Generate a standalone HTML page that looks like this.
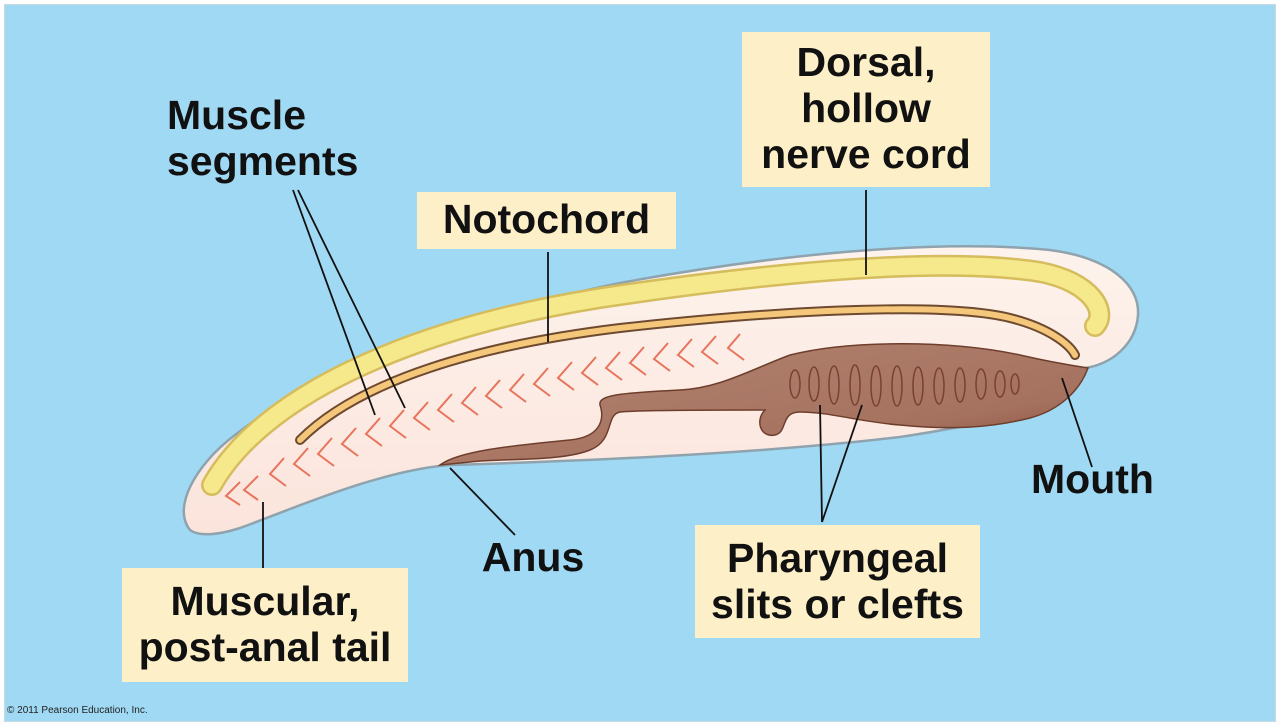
<!DOCTYPE html>
<html><head><style>
html,body{margin:0;padding:0;}
body{width:1280px;height:726px;background:#fff;position:relative;overflow:hidden;font-family:"Liberation Sans",Arial,sans-serif;}
.bg{position:absolute;left:4px;top:4px;width:1272px;height:718px;background:#a0d9f4;border:1px solid #c9d9e0;box-sizing:border-box;}
.t{position:absolute;font-weight:bold;font-size:41px;line-height:46px;color:#111;text-align:center;white-space:nowrap;}
.box{position:absolute;background:#fdf0c9;}
.copy{position:absolute;left:7px;top:705px;font-size:10px;color:#222;}
</style></head><body>
<div class="bg"></div>
<svg width="1280" height="726" style="position:absolute;left:0;top:0">
<defs>
<linearGradient id="bd" x1="0" y1="0" x2="0" y2="1">
<stop offset="0" stop-color="#fdf3ec"/><stop offset="1" stop-color="#fbe4dc"/></linearGradient>
<linearGradient id="gut" x1="0" y1="0" x2="1" y2="1">
<stop offset="0" stop-color="#b28470"/><stop offset="0.7" stop-color="#a67260"/><stop offset="1" stop-color="#7e4230"/></linearGradient>
</defs>
<path d="M190 530 C172 508 195 465 235 435 C325 365 450 318 620 283 C800 250 950 240 1050 250 C1110 258 1140 285 1138 315 C1136 345 1110 365 1085 368 L1065 395 C1040 410 980 425 900 437 C750 455 550 462 450 465 C380 470 290 510 240 528 C215 536 198 536 190 530 Z" fill="url(#bd)" stroke="#8fa3ae" stroke-width="2.5"/>
<path d="M212 485 C260 400 400 330 600 298 C800 268 950 258 1040 272 C1092 282 1108 312 1095 326" fill="none" stroke="#d5bc5c" stroke-width="22" stroke-linecap="round"/>
<path d="M212 485 C260 400 400 330 600 298 C800 268 950 258 1040 272 C1092 282 1108 312 1095 326" fill="none" stroke="#f6e98c" stroke-width="17" stroke-linecap="round"/>
<path d="M300 440 C360 380 480 345 620 328 C800 308 950 303 1010 318 C1050 328 1070 345 1075 355" fill="none" stroke="#6e4a30" stroke-width="10" stroke-linecap="round"/>
<path d="M300 440 C360 380 480 345 620 328 C800 308 950 303 1010 318 C1050 328 1070 345 1075 355" fill="none" stroke="#f5c77a" stroke-width="6" stroke-linecap="round"/>
<path d="M440 465 C460 450 520 445 570 440 C600 437 605 420 600 405 C598 395 620 393 680 390 C720 388 750 370 790 355 C850 340 950 340 1020 355 C1050 362 1075 366 1088 368 C1080 390 1060 410 1030 418 C990 428 950 430 900 425 C860 422 830 412 800 412 C780 412 788 432 775 435 C760 438 755 420 765 410 C740 410 640 410 620 412 C605 415 615 440 590 450 C560 462 500 458 470 462 Z" fill="url(#gut)" stroke="#6e3e2c" stroke-width="1.5"/>
<g fill="none" stroke="#7a4030" stroke-width="1.5">
<ellipse cx="795" cy="384" rx="5" ry="14"/><ellipse cx="814" cy="384" rx="5" ry="17"/><ellipse cx="834" cy="385" rx="5" ry="19"/><ellipse cx="855" cy="385" rx="5" ry="20"/><ellipse cx="876" cy="386" rx="5" ry="20"/><ellipse cx="897" cy="386" rx="5" ry="20"/><ellipse cx="918" cy="386" rx="5" ry="19"/><ellipse cx="939" cy="386" rx="5" ry="18"/><ellipse cx="960" cy="385" rx="5" ry="17"/><ellipse cx="981" cy="384" rx="5" ry="15"/><ellipse cx="1000" cy="384" rx="5" ry="13"/><ellipse cx="1015" cy="384" rx="4" ry="10"/>
</g>
<g fill="none" stroke="#e8745c" stroke-width="2">
<path d="M240 482 L226 496 L240 505"/><path d="M258 476 L244 490 L258 500"/>
<path d="M284 458 L270 474 L286 486"/><path d="M308 448 L294 464 L310 476"/><path d="M332 438 L318 454 L334 466"/><path d="M356 428 L342 444 L358 456"/><path d="M380 418 L366 434 L382 446"/><path d="M404 410 L390 426 L406 438"/><path d="M428 402 L414 418 L430 430"/><path d="M452 394 L438 410 L454 422"/><path d="M476 387 L462 403 L478 415"/><path d="M500 380 L486 396 L502 408"/><path d="M524 374 L510 390 L526 402"/><path d="M548 368 L534 384 L550 396"/><path d="M572 362 L558 378 L574 390"/><path d="M596 357 L582 373 L598 385"/><path d="M620 352 L606 368 L622 380"/><path d="M644 347 L630 363 L646 375"/><path d="M668 343 L654 359 L670 371"/><path d="M692 339 L678 355 L694 367"/><path d="M716 336 L702 352 L718 364"/><path d="M740 334 L728 348 L744 360"/>
</g>
<g stroke="#111" stroke-width="1.8">
<line x1="293" y1="190" x2="375" y2="415"/><line x1="298" y1="190" x2="405" y2="408"/>
<line x1="548" y1="252" x2="548" y2="342"/><line x1="866" y1="190" x2="866" y2="275"/>
<line x1="263" y1="502" x2="263" y2="568"/><line x1="450" y1="468" x2="515" y2="535"/>
<line x1="822" y1="522" x2="820" y2="405"/><line x1="822" y1="522" x2="862" y2="405"/>
<line x1="1062" y1="378" x2="1092" y2="467"/>
</g>
</svg>
<div class="box" style="left:417px;top:192px;width:259px;height:57px"></div>
<div class="box" style="left:742px;top:32px;width:248px;height:155px"></div>
<div class="box" style="left:122px;top:568px;width:286px;height:114px"></div>
<div class="box" style="left:695px;top:525px;width:285px;height:113px"></div>
<div class="t" style="left:167px;top:92px;width:220px;text-align:left">Muscle<br>segments</div>
<div class="t" style="left:417px;top:196px;width:259px">Notochord</div>
<div class="t" style="left:742px;top:39px;width:248px">Dorsal,<br>hollow<br>nerve cord</div>
<div class="t" style="left:122px;top:578px;width:286px">Muscular,<br>post-anal tail</div>
<div class="t" style="left:695px;top:535px;width:285px">Pharyngeal<br>slits or clefts</div>
<div class="t" style="left:468px;top:534px;width:130px">Anus</div>
<div class="t" style="left:1025px;top:456px;width:135px">Mouth</div>
<div class="copy">© 2011 Pearson Education, Inc.</div>
</body></html>
